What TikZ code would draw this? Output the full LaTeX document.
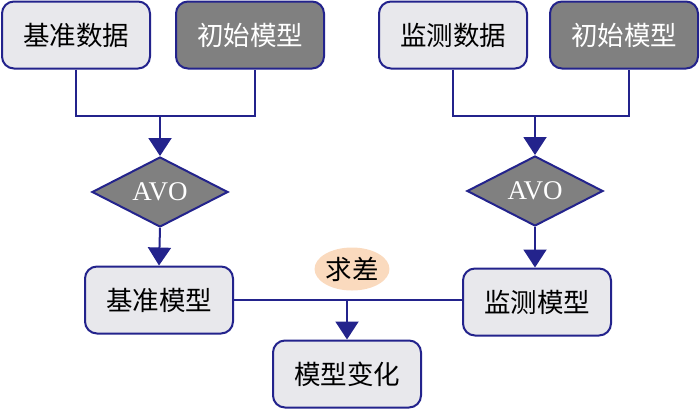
\documentclass[tikz,border=0pt]{standalone}
\usepackage{fontspec}
\usepackage{xcolor}
\usepackage{tikz}
\usetikzlibrary{arrows.meta,shapes.geometric,positioning}
\newfontfamily\cjk{Noto Sans CJK SC}
\setmainfont{Liberation Serif}
\definecolor{navy}{RGB}{35,35,140}
\definecolor{boxgray}{RGB}{232,232,236}
\definecolor{darkgray}{RGB}{128,128,128}
\definecolor{peach}{RGB}{250,218,190}

\begin{document}
\begin{tikzpicture}[x=1pt,y=-1pt,
  box/.style    = {draw=navy, line width=2pt, rounded corners=12pt,
                   fill=boxgray, minimum width=148pt, minimum height=67pt,
                   font=\cjk\fontsize{26.5}{30}\selectfont},
  darkbox/.style= {box, fill=darkgray, text=white},
  avo/.style    = {diamond, draw=navy, line width=2pt, fill=darkgray,
                   text=white, aspect=1.95, inner sep=0pt,
                   minimum width=136pt, minimum height=70pt,
                   font=\fontsize{27}{30}\selectfont},
  wire/.style   = {draw=navy, line width=2pt},
  flow/.style   = {wire, -{Triangle[width=23pt,length=18pt]}},
  ]
  \useasboundingbox (0,0) rectangle (700,410);
  % top row
  \node[box]     (baseData)  at (76,35)  {基准数据};
  \node[darkbox] (initL)     at (250,35) {初始模型};
  \node[box]     (monData)   at (453,35) {监测数据};
  \node[darkbox] (initR)     at (624,35) {初始模型};
  % AVO
  \node[avo] (avoL) at (160,192) {AVO};
  \node[avo] (avoR) at (535,191) {AVO};
  % models
  \node[box] (baseModel) at (159,300) {基准模型};
  \node[box] (monModel)  at (537,302) {监测模型};
  \node[box] (change)    at (347,374) {模型变化};
  \node[ellipse, fill=peach, minimum width=72pt, minimum height=43pt,
        inner sep=0pt, font=\cjk\fontsize{26.5}{30}\selectfont]
        (diff) at (352,269) {求差};

  \coordinate (jL) at (avoL |- 0,116);
  \coordinate (jR) at (avoR |- 0,116);
  \coordinate (jM) at (change |- 0,300);

  \draw[wire] (baseData.south) |- (jL) -| ([xshift=5pt]initL.south);
  \draw[wire] (monData.south) |- (jR) -| ([xshift=5pt]initR.south);
  \draw[flow] (jL) -- (avoL.north);
  \draw[flow] (jR) -- (avoR.north);
  \draw[flow] (avoL.south) -- (baseModel.north);
  \draw[flow] (avoR.south) -- (avoR |- monModel.north);
  \draw[wire] (baseModel.east |- jM) -- (monModel.west |- jM);
  \draw[flow] (jM) -- (change.north);
\end{tikzpicture}
\end{document}
